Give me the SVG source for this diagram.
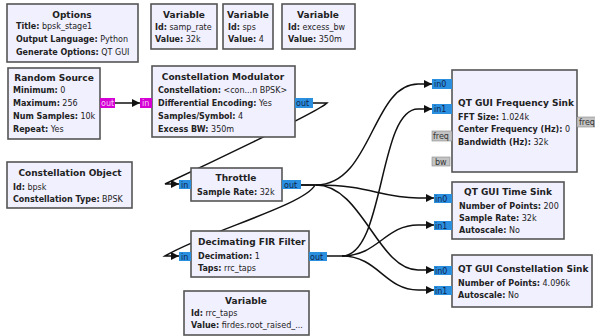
<svg xmlns="http://www.w3.org/2000/svg" width="595" height="336" viewBox="0 0 595 336">
<style>
.blk{fill:#f1f0ff;stroke:#555;stroke-width:1.6}
text{font-family:"DejaVu Sans",sans-serif;font-size:8px;fill:#222}
.t{font-weight:bold;font-size:9px}
.c{text-anchor:middle}
.b{font-weight:bold}
.pm{fill:#d400d4}
.pb{fill:#2b8fe0}
.pg{fill:#c4c4c4;stroke:#888;stroke-width:0.6}
.pt{font-size:8px;fill:#10244a}
.ptm{font-size:8px;fill:#f6c8f6}
.ptg{font-size:8px;fill:#333}
.cn{fill:none;stroke:#111;stroke-width:1.5}
</style>
<defs>
<marker id="ah" viewBox="0 0 10 10" refX="10" refY="5" markerWidth="9" markerHeight="8" markerUnits="userSpaceOnUse" orient="auto">
<path d="M0,0 L10,5 L0,10 z" fill="#111"/>
</marker>
</defs>
<g id="connectors">
<path class="cn" d="M115,103 H140" marker-end="url(#ah)"/>
<path class="cn" d="M313,103 L327,103 C318,112 195,170 165,184 L179,184" marker-end="url(#ah)"/>
<path class="cn" d="M301,185 L315,185 C305,205 205,232 165,256 L179,256" marker-end="url(#ah)"/>
<path class="cn" d="M301,185 L316,185 C372,185 372,84 418,84 L432,84" marker-end="url(#ah)"/>
<path class="cn" d="M316,185 C370,185 380,198 418,198 L434,198" marker-end="url(#ah)"/>
<path class="cn" d="M316,185 C362,185 378,270 418,270 L434,270" marker-end="url(#ah)"/>
<path class="cn" d="M327,256 L342,256 C385,256 378,109 418,109 L432,109" marker-end="url(#ah)"/>
<path class="cn" d="M342,256 C378,256 385,225 418,225 L434,225" marker-end="url(#ah)"/>
<path class="cn" d="M342,256 C378,256 385,290 418,290 L434,290" marker-end="url(#ah)"/>
</g>
<g id="options">
<rect class="blk" x="7" y="4" width="131" height="58"/>
<text class="t c" x="72" y="18">Options</text>
<text x="16" y="29"><tspan class="b">Title:</tspan> bpsk_stage1</text>
<text x="16" y="42"><tspan class="b">Output Language:</tspan> Python</text>
<text x="16" y="55"><tspan class="b">Generate Options:</tspan> QT GUI</text>
</g>
<g id="var_samp_rate">
<rect class="blk" x="151" y="4" width="66" height="45"/>
<text class="t c" x="184" y="18">Variable</text>
<text x="155" y="30"><tspan class="b">Id:</tspan> samp_rate</text>
<text x="155" y="42"><tspan class="b">Value:</tspan> 32k</text>
</g>
<g id="var_sps">
<rect class="blk" x="223" y="4" width="50" height="45"/>
<text class="t c" x="248" y="18">Variable</text>
<text x="228" y="30"><tspan class="b">Id:</tspan> sps</text>
<text x="228" y="42"><tspan class="b">Value:</tspan> 4</text>
</g>
<g id="var_excess_bw">
<rect class="blk" x="282" y="4" width="73" height="45"/>
<text class="t c" x="318" y="18">Variable</text>
<text x="288" y="30"><tspan class="b">Id:</tspan> excess_bw</text>
<text x="288" y="42"><tspan class="b">Value:</tspan> 350m</text>
</g>
<g id="random_source">
<rect class="blk" x="8" y="68" width="92" height="71"/>
<text class="t c" x="54" y="81">Random Source</text>
<text x="13" y="93"><tspan class="b">Minimum:</tspan> 0</text>
<text x="13" y="106"><tspan class="b">Maximum:</tspan> 256</text>
<text x="13" y="119"><tspan class="b">Num Samples:</tspan> 10k</text>
<text x="13" y="132"><tspan class="b">Repeat:</tspan> Yes</text>
<rect class="pm" x="100" y="98" width="15" height="10"/>
<text class="ptm" x="101" y="106">out</text>
</g>
<g id="constellation_modulator">
<rect class="blk" x="152" y="66" width="143" height="71"/>
<text class="t c" x="223" y="80">Constellation Modulator</text>
<text x="158" y="93"><tspan class="b">Constellation:</tspan> &lt;con...n BPSK&gt;</text>
<text x="158" y="106"><tspan class="b">Differential Encoding:</tspan> Yes</text>
<text x="158" y="119"><tspan class="b">Samples/Symbol:</tspan> 4</text>
<text x="158" y="132"><tspan class="b">Excess BW:</tspan> 350m</text>
<rect class="pm" x="140" y="98" width="12" height="10"/>
<text class="ptm" x="142" y="106">in</text>
<rect class="pb" x="295" y="98" width="18" height="10"/>
<text class="pt" x="296" y="106">out</text>
</g>
<g id="constellation_object">
<rect class="blk" x="7" y="162" width="125" height="46"/>
<text class="t c" x="70" y="176">Constellation Object</text>
<text x="13" y="190"><tspan class="b">Id:</tspan> bpsk</text>
<text x="13" y="202"><tspan class="b">Constellation Type:</tspan> BPSK</text>
</g>
<g id="throttle">
<rect class="blk" x="191" y="168" width="91" height="33"/>
<text class="t c" x="236" y="181">Throttle</text>
<text x="197" y="195"><tspan class="b">Sample Rate:</tspan> 32k</text>
<rect class="pb" x="179" y="180" width="12" height="9"/>
<text class="pt" x="181" y="187.5">in</text>
<rect class="pb" x="282" y="180" width="19" height="9"/>
<text class="pt" x="284" y="187.5">out</text>
</g>
<g id="decimating_fir">
<rect class="blk" x="191" y="231" width="118" height="46"/>
<text class="t" x="198" y="245">Decimating FIR Filter</text>
<text x="198" y="259"><tspan class="b">Decimation:</tspan> 1</text>
<text x="198" y="271"><tspan class="b">Taps:</tspan> rrc_taps</text>
<rect class="pb" x="179" y="252" width="12" height="9"/>
<text class="pt" x="181" y="259.5">in</text>
<rect class="pb" x="309" y="252" width="18" height="9"/>
<text class="pt" x="310" y="259.5">out</text>
</g>
<g id="var_rrc_taps">
<rect class="blk" x="184" y="291" width="125" height="44"/>
<text class="t c" x="246" y="304">Variable</text>
<text x="191" y="316"><tspan class="b">Id:</tspan> rrc_taps</text>
<text x="191" y="328"><tspan class="b">Value:</tspan> firdes.root_raised_...</text>
</g>
<g id="freq_sink">
<rect class="blk" x="452" y="70" width="125" height="102"/>
<text class="t" x="458" y="106">QT GUI Frequency Sink</text>
<text x="458" y="120"><tspan class="b">FFT Size:</tspan> 1.024k</text>
<text x="458" y="132"><tspan class="b">Center Frequency (Hz):</tspan> 0</text>
<text x="458" y="145"><tspan class="b">Bandwidth (Hz):</tspan> 32k</text>
<rect class="pb" x="432" y="79" width="20" height="10"/>
<text class="pt" x="434" y="87">in0</text>
<rect class="pb" x="432" y="104" width="20" height="10"/>
<text class="pt" x="434" y="112">in1</text>
<rect class="pg" x="432" y="131" width="20" height="10"/>
<text class="ptg" x="433" y="139">freq</text>
<rect class="pg" x="432" y="157" width="18" height="9"/>
<text class="ptg" x="435" y="164.5">bw</text>
<rect class="pg" x="577" y="117" width="22" height="10"/>
<text class="ptg" x="579" y="125">freq</text>
</g>
<g id="time_sink">
<rect class="blk" x="452" y="182" width="112" height="57"/>
<text class="t c" x="508" y="195">QT GUI Time Sink</text>
<text x="459" y="209"><tspan class="b">Number of Points:</tspan> 200</text>
<text x="459" y="221"><tspan class="b">Sample Rate:</tspan> 32k</text>
<text x="459" y="233"><tspan class="b">Autoscale:</tspan> No</text>
<rect class="pb" x="434" y="194" width="18" height="9"/>
<text class="pt" x="435" y="201.5">in0</text>
<rect class="pb" x="434" y="221" width="18" height="9"/>
<text class="pt" x="435" y="228.5">in1</text>
</g>
<g id="const_sink">
<rect class="blk" x="452" y="255" width="140" height="52"/>
<text class="t" x="458" y="272">QT GUI Constellation Sink</text>
<text x="458" y="286"><tspan class="b">Number of Points:</tspan> 4.096k</text>
<text x="458" y="298"><tspan class="b">Autoscale:</tspan> No</text>
<rect class="pb" x="434" y="266" width="18" height="9"/>
<text class="pt" x="435" y="273.5">in0</text>
<rect class="pb" x="434" y="286" width="18" height="9"/>
<text class="pt" x="435" y="293.5">in1</text>
</g>
</svg>
